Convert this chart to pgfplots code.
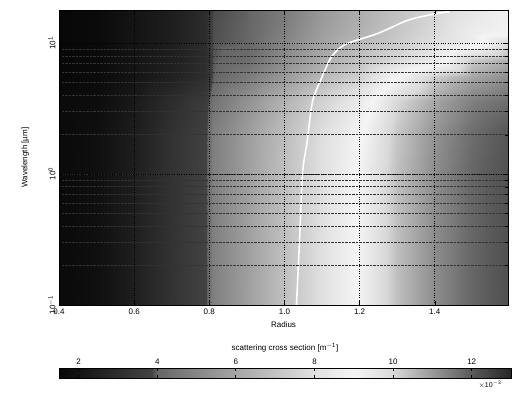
\documentclass[border=0pt]{standalone}
\usepackage{fontspec}
\setmainfont{Liberation Sans}
\usepackage{pgfplots}
\pgfplotsset{compat=1.18}
\begin{document}
\begin{tikzpicture}
\path[use as bounding box] (-59pt,-89pt) rectangle (459pt,305pt);
\begin{axis}[
  scale only axis, width=449pt, height=295pt,
  at={(0,0)}, anchor=south west,
  xmin=0.4, xmax=1.595, ymin=0.1, ymax=17.9, ymode=log,
  xtick={0.4,0.6,0.8,1.0,1.2,1.4},
  xticklabels={0.4,0.6,0.8,1.0,1.2,1.4},
  ytick={0.1,1,10},
  yticklabels={10\textsuperscript{$-$1},10\textsuperscript{0},10\textsuperscript{1}},
  yticklabel style={rotate=90, anchor=south},
  tick label style={font=\footnotesize},
  label style={font=\footnotesize},
  xlabel={Radius},
  ylabel={Wavelength [µm]},
  xlabel style={at={(axis description cs:0.5,-0.045)}, anchor=north},
  ylabel style={at={(axis description cs:-0.075,0.5)}, anchor=center},
  xmajorgrids, ymajorgrids, yminorgrids,
  major grid style={black, dotted, line width=0.6pt},
  minor grid style={black!80, densely dotted, line width=0.5pt},
  tick align=inside, tick style={black},
  axis on top,
  colormap={cmap}{gray(0pt)=(0.03); gray(47pt)=(0.26); gray(50pt)=(0.4); gray(90pt)=(0.65); gray(130pt)=(0.88); gray(150pt)=(0.96); gray(170pt)=(0.85); gray(210pt)=(0.35); gray(230pt)=(0.15)},
  point meta min=1.5, point meta max=13,
  colorbar horizontal,
  colorbar style={
    at={(0,-0.2136)}, anchor=north west,
    scale only axis, width=452pt, height=10pt,
    xtick={2,4,6,8,10,12},
    xticklabel pos=upper,
    /pgf/number format/assume math mode=true,
    tick align=inside,
    tick style={black, line width=0.8pt},
    major tick length=3pt,
    tick label style={font=\footnotesize},
    xlabel={scattering cross section [m\textsuperscript{$-$1}]},
    xlabel style={font=\footnotesize},
  },
]
\addplot[surf, shader=interp, mesh/rows=11, mesh/cols=14, point meta=explicit] table[meta=v] {
x y v
0.40 0.1 1.6
0.50 0.1 1.8
0.60 0.1 2.4
0.70 0.1 3.24
0.79 0.1 3.84
0.81 0.1 4.8
0.90 0.1 5.76
1.00 0.1 6.87
1.10 0.1 8.0
1.20 0.1 9.1
1.30 0.1 10.4
1.40 0.1 11.2
1.50 0.1 11.8
1.60 0.1 12.2
0.40 0.3 1.6
0.50 0.3 1.8
0.60 0.3 2.4
0.70 0.3 3.24
0.79 0.3 3.84
0.81 0.3 4.8
0.90 0.3 5.76
1.00 0.3 6.87
1.10 0.3 8.0
1.20 0.3 9.1
1.30 0.3 10.4
1.40 0.3 11.2
1.50 0.3 11.8
1.60 0.3 12.2
0.40 1.0 1.6
0.50 1.0 1.8
0.60 1.0 2.4
0.70 1.0 3.24
0.79 1.0 3.84
0.81 1.0 4.8
0.90 1.0 5.76
1.00 1.0 6.87
1.10 1.0 8.0
1.20 1.0 9.1
1.30 1.0 10.4
1.40 1.0 11.2
1.50 1.0 11.8
1.60 1.0 12.2
0.40 2.0 1.6
0.50 2.0 1.8
0.60 2.0 2.35
0.70 2.0 3.2
0.79 2.0 3.8
0.81 2.0 4.75
0.90 2.0 5.7
1.00 2.0 6.8
1.10 2.0 7.95
1.20 2.0 8.95
1.30 2.0 10.3
1.40 2.0 11.1
1.50 2.0 11.7
1.60 2.0 12.1
0.40 3.6 1.6
0.50 3.6 1.7
0.60 3.6 2.2
0.70 3.6 3.0
0.79 3.6 3.6
0.81 3.6 4.4
0.90 3.6 5.36
1.00 3.6 6.43
1.10 3.6 7.5
1.20 3.6 8.5
1.30 3.6 10.0
1.40 3.6 10.8
1.50 3.6 11.4
1.60 3.6 11.7
0.40 5.5 1.5
0.50 5.5 1.6
0.60 5.5 2.0
0.70 5.5 2.5
0.79 5.5 3.1
0.81 5.5 3.96
0.90 5.5 4.64
1.00 5.5 5.6
1.10 5.5 6.61
1.20 5.5 7.5
1.30 5.5 9.0
1.40 5.5 10.2
1.50 5.5 10.8
1.60 5.5 11.2
0.40 7.4 1.5
0.50 7.4 1.6
0.60 7.4 2.0
0.70 7.4 2.4
0.79 7.4 3.0
0.81 7.4 3.93
0.90 7.4 4.24
1.00 7.4 5.2
1.10 7.4 6.17
1.20 7.4 6.96
1.30 7.4 7.74
1.40 7.4 8.5
1.50 7.4 10.2
1.60 7.4 10.7
0.40 10 1.5
0.50 10 1.6
0.60 10 2.0
0.70 10 2.4
0.79 10 3.0
0.81 10 3.9
0.90 10 4.0
1.00 10 4.96
1.10 10 5.92
1.20 10 6.7
1.30 10 7.3
1.40 10 8.0
1.50 10 8.6
1.60 10 10.0
0.40 12 1.5
0.50 12 1.6
0.60 12 2.0
0.70 12 2.4
0.79 12 3.0
0.81 12 3.9
0.90 12 4.0
1.00 12 4.8
1.10 12 5.76
1.20 12 6.43
1.30 12 7.13
1.40 12 7.8
1.50 12 8.6
1.60 12 8.9
0.40 15 1.5
0.50 15 1.6
0.60 15 2.0
0.70 15 2.4
0.79 15 3.0
0.81 15 3.89
0.90 15 3.99
1.00 15 4.7
1.10 15 5.65
1.20 15 6.3
1.30 15 7.0
1.40 15 7.7
1.50 15 8.4
1.60 15 8.9
0.40 18 1.5
0.50 18 1.6
0.60 18 2.0
0.70 18 2.4
0.79 18 3.0
0.81 18 3.88
0.90 18 3.98
1.00 18 4.64
1.10 18 5.6
1.20 18 6.26
1.30 18 6.96
1.40 18 7.65
1.50 18 8.25
1.60 18 8.9
};
\addplot[white, line width=1.6pt, smooth] coordinates {
(1.032,0.1) (1.040,0.3) (1.048,1) (1.060,1.73) (1.075,3.6) (1.100,5.5) (1.120,7.4) (1.140,8.8) (1.170,10) (1.250,11.9) (1.330,15) (1.400,16.7) (1.440,17.4)
};
\end{axis}
\node[font=\scriptsize] at (431pt,-80pt) {$\times$10\textsuperscript{$-$3}};
\end{tikzpicture}
\end{document}
